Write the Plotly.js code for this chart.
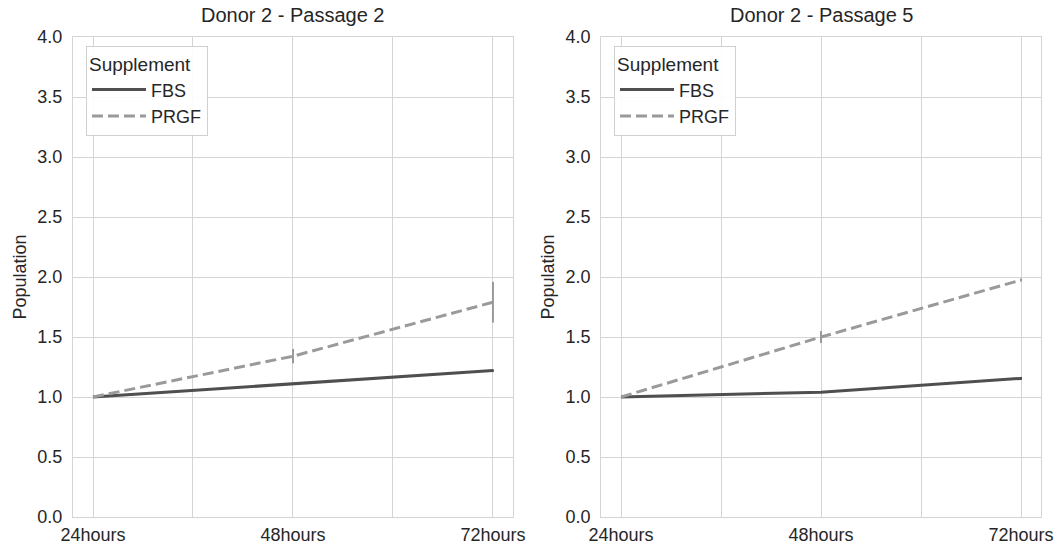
<!DOCTYPE html>
<html>
<head>
<meta charset="utf-8">
<script src="https://cdn.plot.ly/plotly-3.0.1.min.js"></script>
<style>html,body{margin:0;padding:0;background:#fff;}#chart{width:1057px;height:545px;}</style>
</head>
<body>
<div id="chart"></div>
<script>
// ---- data ----
var timeLabels = ['24hours', '48hours', '72hours'];
var timePos = [0, 1, 2];
var tickVals = [0, 0.5, 1, 1.5, 2];
var tickText = ['24hours', '', '48hours', '', '72hours'];
var yTicks = [0, 0.5, 1, 1.5, 2, 2.5, 3, 3.5, 4];

var p2_fbs = [1.0, 1.11, 1.22];
var p2_fbs_err = [0, 0.005, 0.01];
var p2_prgf = [1.0, 1.34, 1.79];
var p2_prgf_err = [0, 0.06, 0.17];

var p5_fbs = [1.0, 1.04, 1.155];
var p5_fbs_err = [0, 0.006, 0.012];
var p5_prgf = [1.0, 1.50, 1.975];
var p5_prgf_err = [0, 0.05, 0.012];

var subplotTitles = ['Donor 2 - Passage 2', 'Donor 2 - Passage 5'];
var seriesNames = ['FBS', 'PRGF'];

// ---- styles ----
var cFBS = '#4f4f4f', cPRGF = '#9a9a9a';
var textColor = '#262626';
var gridColor = '#d4d4d4';
var font = 'Liberation Sans, Arial, sans-serif';

function tr(y, err, name, color, dash, xa, ya, leg) {
  return {
    x: timePos, y: y, name: name, type: 'scatter', mode: 'lines',
    xaxis: xa, yaxis: ya, legend: leg,
    line: {color: color, width: 3, dash: dash},
    error_y: {type: 'data', array: err, visible: true, color: color, thickness: 2, width: 0},
    hoverinfo: 'x+y+name'
  };
}

var data = [
  tr(p2_fbs, p2_fbs_err, seriesNames[0], cFBS, 'solid', 'x', 'y', 'legend'),
  tr(p2_prgf, p2_prgf_err, seriesNames[1], cPRGF, '11px,5px', 'x', 'y', 'legend'),
  tr(p5_fbs, p5_fbs_err, seriesNames[0], cFBS, 'solid', 'x2', 'y2', 'legend2'),
  tr(p5_prgf, p5_prgf_err, seriesNames[1], cPRGF, '11px,5px', 'x2', 'y2', 'legend2')
];

function xax(dom, anchor) {
  return {
    domain: dom, anchor: anchor, range: [-0.1, 2.1],
    tickvals: tickVals, ticktext: tickText,
    showgrid: true, gridcolor: gridColor, gridwidth: 1,
    zeroline: false, showline: true, mirror: true, linecolor: gridColor, linewidth: 1,
    ticks: 'outside', ticklen: 1, tickcolor: 'rgba(0,0,0,0)',
    tickfont: {size: 18, color: textColor, family: font}
  };
}
function yax(anchor) {
  return {
    anchor: anchor, range: [0, 4], tickvals: yTicks, tickformat: '.1f',
    showgrid: true, gridcolor: gridColor, gridwidth: 1,
    zeroline: false, showline: true, mirror: true, linecolor: gridColor, linewidth: 1,
    ticks: 'outside', ticklen: 6, tickcolor: 'rgba(0,0,0,0)',
    tickfont: {size: 18, color: textColor, family: font},
    title: {text: 'Population', font: {size: 18, color: textColor, family: font}, standoff: 6}
  };
}
function legendCfg(x) {
  return {
    x: x, y: 0.982, xanchor: 'left', yanchor: 'top', xref: 'paper', yref: 'paper',
    bgcolor: 'rgba(255,255,255,0.9)', bordercolor: '#d0d0d0', borderwidth: 1,
    font: {size: 18, color: textColor, family: font},
    title: {text: 'Supplement', font: {size: 19, color: textColor, family: font}},
    tracegroupgap: 0, itemwidth: 54
  };
}

var layout = {
  width: 1057, height: 545,
  margin: {l: 73, r: 16, t: 37, b: 28},
  paper_bgcolor: '#ffffff', plot_bgcolor: '#ffffff',
  font: {family: font, color: textColor},
  showlegend: true,
  xaxis: xax([0, 0.4545], 'y'),
  yaxis: yax('x'),
  xaxis2: xax([0.5455, 1], 'y2'),
  yaxis2: yax('x2'),
  legend: legendCfg(0.0134),
  legend2: legendCfg(0.5589),
  annotations: [
    {text: subplotTitles[0], xref: 'x domain', yref: 'y domain', x: 0.5, y: 1, yanchor: 'middle', yshift: 22,
     showarrow: false, font: {size: 20, color: textColor, family: font}},
    {text: subplotTitles[1], xref: 'x2 domain', yref: 'y2 domain', x: 0.5, y: 1, yanchor: 'middle', yshift: 22,
     showarrow: false, font: {size: 20, color: textColor, family: font}}
  ]
};

Plotly.newPlot('chart', data, layout, {displayModeBar: false, responsive: false});
</script>
</body>
</html>
